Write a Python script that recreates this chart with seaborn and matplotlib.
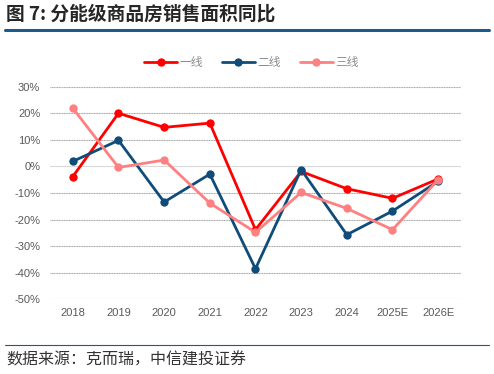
import matplotlib.pyplot as plt
import pandas as pd
import seaborn as sns

# data (YoY, %)
years = ['2018', '2019', '2020', '2021', '2022', '2023', '2024', '2025E', '2026E']
tier1 = [-3.8, 20.0, 14.7, 16.3, -23.8, -1.9, -8.4, -12.0, -4.7]
tier2 = [1.9, 9.8, -13.4, -2.9, -38.5, -1.2, -25.7, -16.8, -5.6]
tier3 = [21.9, -0.4, 2.4, -13.8, -24.8, -9.8, -15.8, -23.8, -5.0]
series_names = ['一线', '二线', '三线']
colors = ['#FF0000', '#0F4C7A', '#FF8080']

df = pd.DataFrame({'year': years * 3,
                   'value': tier1 + tier2 + tier3,
                   'tier': [n for n in series_names for _ in years]})

sns.set_theme(style='white')
plt.rcParams['font.family'] = ['Liberation Sans', 'Noto Sans CJK SC', 'DejaVu Sans']

fig = plt.figure(figsize=(4.94, 3.74), dpi=100)
ax = fig.add_axes([0.1012, 0.1997, 0.832, 0.5685])

sns.lineplot(data=df, x='year', y='value', hue='tier', palette=colors,
             marker='o', markersize=6, markeredgewidth=0, linewidth=2.0,
             sort=False, ax=ax)

ax.set_ylim(-50, 30)
ax.set_xlim(-0.5, 8.5)
ax.set_yticks(range(-50, 31, 10))
ax.set_yticklabels([f'{v}%' for v in range(-50, 31, 10)])
ax.set_xlabel('')
ax.set_ylabel('')
for v in range(-50, 31, 10):
    ax.axhline(v, color='#d9d9d9' if v == 0 else '#a6a6a6', linewidth=0.8,
               linestyle='-' if v == 0 else (0, (1, 0.5)), zorder=0)
for s in ax.spines.values():
    s.set_visible(False)
ax.tick_params(axis='x', length=0, labelsize=8, labelcolor='#595959', pad=6)
ax.tick_params(axis='y', length=0, labelsize=8, labelcolor='#595959', pad=7)

ax.legend(loc='upper center', bbox_to_anchor=(0.49, 1.19), ncol=3, frameon=False,
          fontsize=8.5, labelcolor='#8c8c8c', handlelength=2.8, columnspacing=1.6,
          handletextpad=0.2)

fig.text(0.012, 0.962, '图 7: 分能级商品房销售面积同比', fontsize=13.5, fontweight='bold',
         va='center', ha='left', family=['Noto Sans CJK SC', 'DejaVu Sans'])
fig.add_artist(plt.Line2D([0.01, 0.99], [0.92, 0.92], color='#1B5A8A', linewidth=2.2))
fig.add_artist(plt.Line2D([0.01, 0.99], [0.078, 0.078], color='#1B5A8A', linewidth=0.8))
fig.text(0.012, 0.038, '数据来源：克而瑞，中信建投证券', fontsize=11.5, style='italic',
         va='center', ha='left', color='#333333', family=['Noto Sans CJK SC', 'DejaVu Sans'])

fig.savefig('out.png', dpi=100)
